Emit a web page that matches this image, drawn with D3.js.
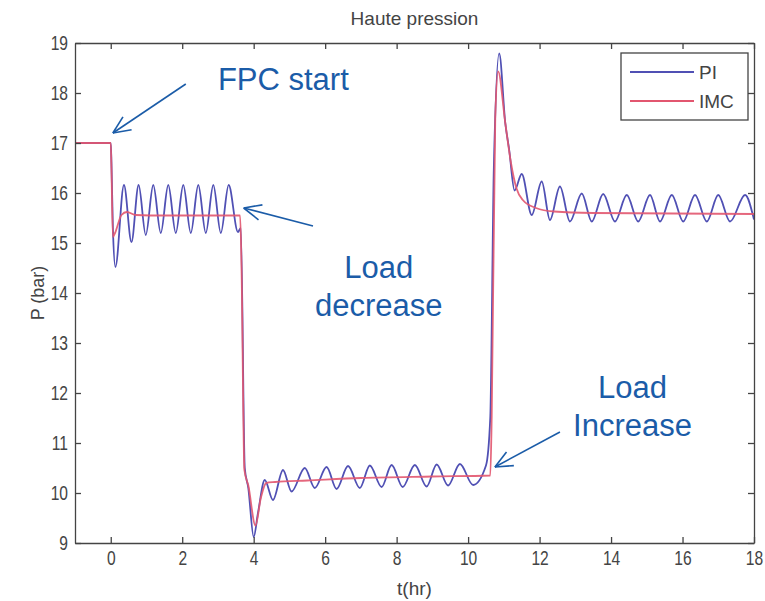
<!DOCTYPE html>
<html>
<head>
<meta charset="utf-8">
<script src="https://cdn.jsdelivr.net/npm/d3@7"></script>
<style>
	body { margin: 0; background: #fff; }
	text { font-family: "Liberation Sans", Arial, sans-serif; }
</style>
</head>
<body>
<div class="container"></div>
<script>
// values: [t (hr), P (bar)]
var piData = [
	[-1, 17], [0, 17], [0.02, 16.6], [0.06, 15.3], [0.13, 14.52],
	[0.37, 16.16], [0.58, 15.02], [0.78, 16.16], [0.98, 15.16], [1.19, 16.16],
	[1.40, 15.2], [1.61, 16.16], [1.82, 15.2], [2.03, 16.16], [2.24, 15.2],
	[2.45, 16.16], [2.66, 15.2], [2.87, 16.16], [3.08, 15.2], [3.30, 16.16],
	[3.56, 15.22], [3.64, 15.3], [3.75, 10.5], [3.85, 10.1], [4.0, 9.12],
	[4.12, 9.6], [4.31, 10.26], [4.54, 9.86], [4.82, 10.46], [5.06, 10.03],
	[5.43, 10.5], [5.71, 10.1], [6.04, 10.52], [6.32, 10.08], [6.64, 10.54],
	[6.97, 10.1], [7.25, 10.55], [7.58, 10.12], [7.86, 10.56], [8.17, 10.12],
	[8.51, 10.56], [8.84, 10.13], [9.12, 10.57], [9.44, 10.15], [9.77, 10.58],
	[10.14, 10.16], [10.5, 10.55], [10.62, 11.5], [10.72, 16.5], [10.87, 18.79],
	[11.04, 17.4], [11.15, 16.86], [11.3, 16.05], [11.5, 16.38], [11.78, 15.56],
	[12.06, 16.23], [12.29, 15.46], [12.57, 16.13], [12.85, 15.43], [13.18, 15.99],
	[13.46, 15.43], [13.78, 15.98], [14.11, 15.43], [14.44, 15.96], [14.76, 15.43],
	[15.09, 15.96], [15.37, 15.43], [15.7, 15.96], [16.02, 15.43], [16.35, 15.96],
	[16.68, 15.43], [17.0, 15.96], [17.33, 15.43], [17.75, 15.96], [18.0, 15.47]
];

var imcData = [
	[-1, 17], [0, 17], [0.02, 16.5], [0.06, 15.12], [0.12, 15.2], [0.3, 15.56],
	[0.45, 15.62], [0.7, 15.56], [1.5, 15.55], [3.62, 15.55], [3.66, 14.5],
	[3.74, 10.46], [3.85, 10.15], [4.05, 9.35], [4.2, 9.9], [4.35, 10.2],
	[4.6, 10.22], [5.5, 10.25], [7, 10.3], [9, 10.33], [10.62, 10.35],
	[10.66, 11.5], [10.76, 17.5], [10.84, 18.43], [11.04, 17.4], [11.2, 16.6],
	[11.35, 16.1], [11.53, 15.86], [11.9, 15.7], [12.4, 15.63], [13.5, 15.6],
	[18, 15.58]
];

var seriesNames = ['PI', 'IMC'];
var xTicks = [0, 2, 4, 6, 8, 10, 12, 14, 16, 18];
var yTicks = [9, 10, 11, 12, 13, 14, 15, 16, 17, 18, 19];

// annotations: tip and tail of each arrow in data units, labels
var arrowTips = [[0.06, 17.2], [3.72, 15.7], [10.75, 10.52]];
var arrowTails = [[2.1, 18.18], [5.66, 15.34], [12.57, 11.22]];
var noteLines = [['FPC start'], ['Load', 'decrease'], ['Load', 'Increase']];
var notePos = [[4.83, 18.06], [7.5, 14.3], [14.6, 11.9]];

var W = 765, H = 601;
var margin = {left: 75, right: 11, top: 43, bottom: 58};
var blueText = '#1b5ca8';
var axisColor = '#444';
var piColor = '#5050b4', imcColor = '#e2566f';

var svg = d3.select('.container')
.append('svg')
.attr('width', W)
.attr('height', H);

var x = d3.scaleLinear().domain([-1, 18]).range([margin.left, W - margin.right]);
var y = d3.scaleLinear().domain([9, 19]).range([H - margin.bottom, margin.top]);

// grey text, optionally squeezed like the stretched matlab figure
function label(g, tx, ty, str, size, anchor, sx, extra) {
	return g.append('text')
	.attr('transform', 'translate(' + tx + ',' + ty + ')' + (extra || '') + ' scale(' + sx + ',1)')
	.attr('text-anchor', anchor)
	.attr('font-size', size)
	.attr('fill', axisColor)
	.text(str);
}

// curves
var line = d3.line()
.x(d => x(d[0]))
.y(d => y(d[1]))
.curve(d3.curveMonotoneX);

svg.append('path')
.attr('d', line(piData))
.attr('fill', 'none')
.attr('stroke', piColor)
.attr('stroke-width', 1.8);

svg.append('path')
.attr('d', line(imcData))
.attr('fill', 'none')
.attr('stroke', imcColor)
.attr('stroke-width', 1.8)
.attr('opacity', 0.9);

// axes, ticks pointing inside on all four sides
var xb = svg.append('g')
.attr('transform', 'translate(0,' + y(9) + ')')
.call(d3.axisBottom(x).tickValues(xTicks).tickSizeInner(-6).tickSizeOuter(0).tickPadding(8));
var xt = svg.append('g')
.attr('transform', 'translate(0,' + y(19) + ')')
.call(d3.axisTop(x).tickValues(xTicks).tickSizeInner(-6).tickSizeOuter(0).tickFormat(''));
var yl = svg.append('g')
.attr('transform', 'translate(' + x(-1) + ',0)')
.call(d3.axisLeft(y).tickValues(yTicks).tickSizeInner(-6).tickSizeOuter(0).tickPadding(7));
var yr = svg.append('g')
.attr('transform', 'translate(' + x(18) + ',0)')
.call(d3.axisRight(y).tickValues(yTicks).tickSizeInner(-6).tickSizeOuter(0).tickFormat(''));

[xb, xt, yl, yr].forEach(g => {
	g.selectAll('path, line').attr('stroke', axisColor).attr('stroke-width', 1.3);
	g.selectAll('text').attr('fill', axisColor).attr('font-size', 20)
	.attr('font-family', '"Liberation Sans", Arial, sans-serif');
});
xb.selectAll('text').attr('transform', 'scale(0.78,1)');
yl.selectAll('text').attr('x', -9).attr('transform', 'scale(0.78,1)');

// titles
label(svg, (x(-1) + x(18)) / 2, 25, 'Haute pression', 19, 'middle', 1);
label(svg, (x(-1) + x(18)) / 2, 595, 't(hr)', 19, 'middle', 1);
label(svg, 44, (y(9) + y(19)) / 2, 'P (bar)', 18, 'middle', 1, ' rotate(-90)');

// legend
var lg = svg.append('g');
lg.append('rect')
.attr('x', 621).attr('y', 53).attr('width', 127).attr('height', 67)
.attr('fill', '#fff').attr('stroke', axisColor).attr('stroke-width', 1.3);
var legendColors = [piColor, imcColor];
seriesNames.forEach((name, i) => {
	lg.append('line')
	.attr('x1', 630).attr('x2', 694)
	.attr('y1', 72 + i * 29).attr('y2', 72 + i * 29)
	.attr('stroke', legendColors[i]).attr('stroke-width', 1.8);
	label(lg, 699, 79 + i * 29, name, 19, 'start', 1);
});

// annotations with open arrow heads
arrowTips.forEach((tip, i) => {
	var tail = arrowTails[i];
	var x1 = x(tail[0]), y1 = y(tail[1]), x2 = x(tip[0]), y2 = y(tip[1]);
	var ang = Math.atan2(y2 - y1, x2 - x1);
	var head = 19, spread = 0.42;
	svg.append('line')
	.attr('x1', x1).attr('y1', y1).attr('x2', x2).attr('y2', y2)
	.attr('stroke', blueText).attr('stroke-width', 1.6);
	[-spread, spread].forEach(s => {
		svg.append('line')
		.attr('x1', x2).attr('y1', y2)
		.attr('x2', x2 - head * Math.cos(ang + s))
		.attr('y2', y2 - head * Math.sin(ang + s))
		.attr('stroke', blueText).attr('stroke-width', 1.6);
	});
});

noteLines.forEach((lines, i) => {
	lines.forEach((str, j) => {
		svg.append('text')
		.attr('x', x(notePos[i][0]))
		.attr('y', y(notePos[i][1]) + j * 38)
		.attr('text-anchor', 'middle')
		.attr('font-size', 31)
		.attr('fill', blueText)
		.text(str);
	});
});
</script>
</body>
</html>
